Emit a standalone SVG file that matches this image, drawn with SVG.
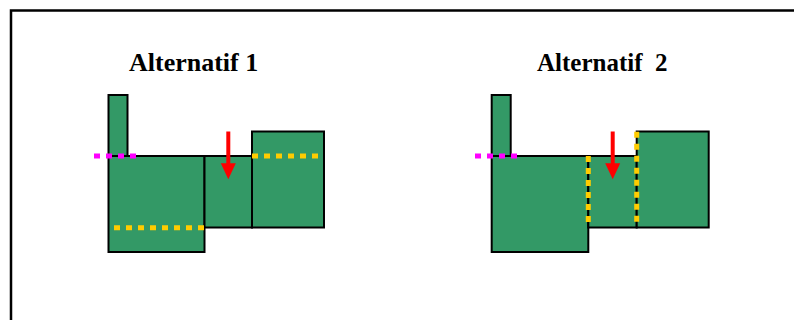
<svg xmlns="http://www.w3.org/2000/svg" width="794" height="320" viewBox="0 0 794 320">
<defs>
<style>
.blk{fill:#339966;stroke:#000;stroke-width:2}
.mag{stroke:#ff00ff;stroke-width:5;stroke-dasharray:6 6;fill:none}
.yel{stroke:#ffcc00;stroke-width:5;stroke-dasharray:6 6;fill:none}
.arr{stroke:#ff0000;stroke-width:4;fill:none}
.head{fill:#ff0000}
.title{font-family:"Liberation Serif","Times New Roman",serif;font-weight:bold;font-size:26px;fill:#000;white-space:pre}
</style>
</defs>
<rect width="794" height="320" fill="#fff"/>
<rect id="frame" x="11" y="10.5" width="800" height="330" fill="none" stroke="#000" stroke-width="2.5"/>
<g id="alt1">
<text class="title" x="129" y="70.5">Alternatif 1</text>
<g id="a1-chimney"><rect class="blk" x="108.5" y="95" width="19" height="61"/></g>
<g id="a1-main"><rect class="blk" x="108.5" y="156" width="96" height="96"/></g>
<g id="a1-mid"><rect class="blk" x="204.5" y="156" width="47.5" height="71.5"/></g>
<g id="a1-right"><rect class="blk" x="252" y="131.5" width="72" height="96"/></g>
<g id="a1-lines">
<line class="mag" x1="94" y1="156" x2="136" y2="156"/>
<line class="yel" x1="114" y1="227.7" x2="206" y2="227.7"/>
<line class="yel" x1="252" y1="156" x2="320" y2="156"/>
<line class="arr" x1="228.3" y1="131.5" x2="228.3" y2="165"/>
<polygon class="head" points="220.8,163.3 235.8,163.3 228.3,179.3"/>
</g>
</g>
<g id="alt2">
<text class="title" x="537" y="70.5" font-size="25" style="font-size:25px" xml:space="preserve">Alternatif  2</text>
<g id="a2-chimney"><rect class="blk" x="491.7" y="95" width="19" height="61"/></g>
<g id="a2-main"><rect class="blk" x="491.7" y="156" width="96.6" height="96"/></g>
<g id="a2-mid"><rect class="blk" x="588.3" y="156" width="48.4" height="71.5"/></g>
<g id="a2-right"><rect class="blk" x="636.7" y="131.5" width="72" height="96"/></g>
<g id="a2-lines">
<line class="mag" x1="475" y1="156" x2="517" y2="156"/>
<line class="yel" x1="588.3" y1="156" x2="588.3" y2="222"/>
<line class="yel" x1="636.7" y1="131.7" x2="636.7" y2="222"/>
<line class="arr" x1="612.7" y1="131.5" x2="612.7" y2="165"/>
<polygon class="head" points="605.2,163.3 620.2,163.3 612.7,179.3"/>
</g>
</g>
</svg>
